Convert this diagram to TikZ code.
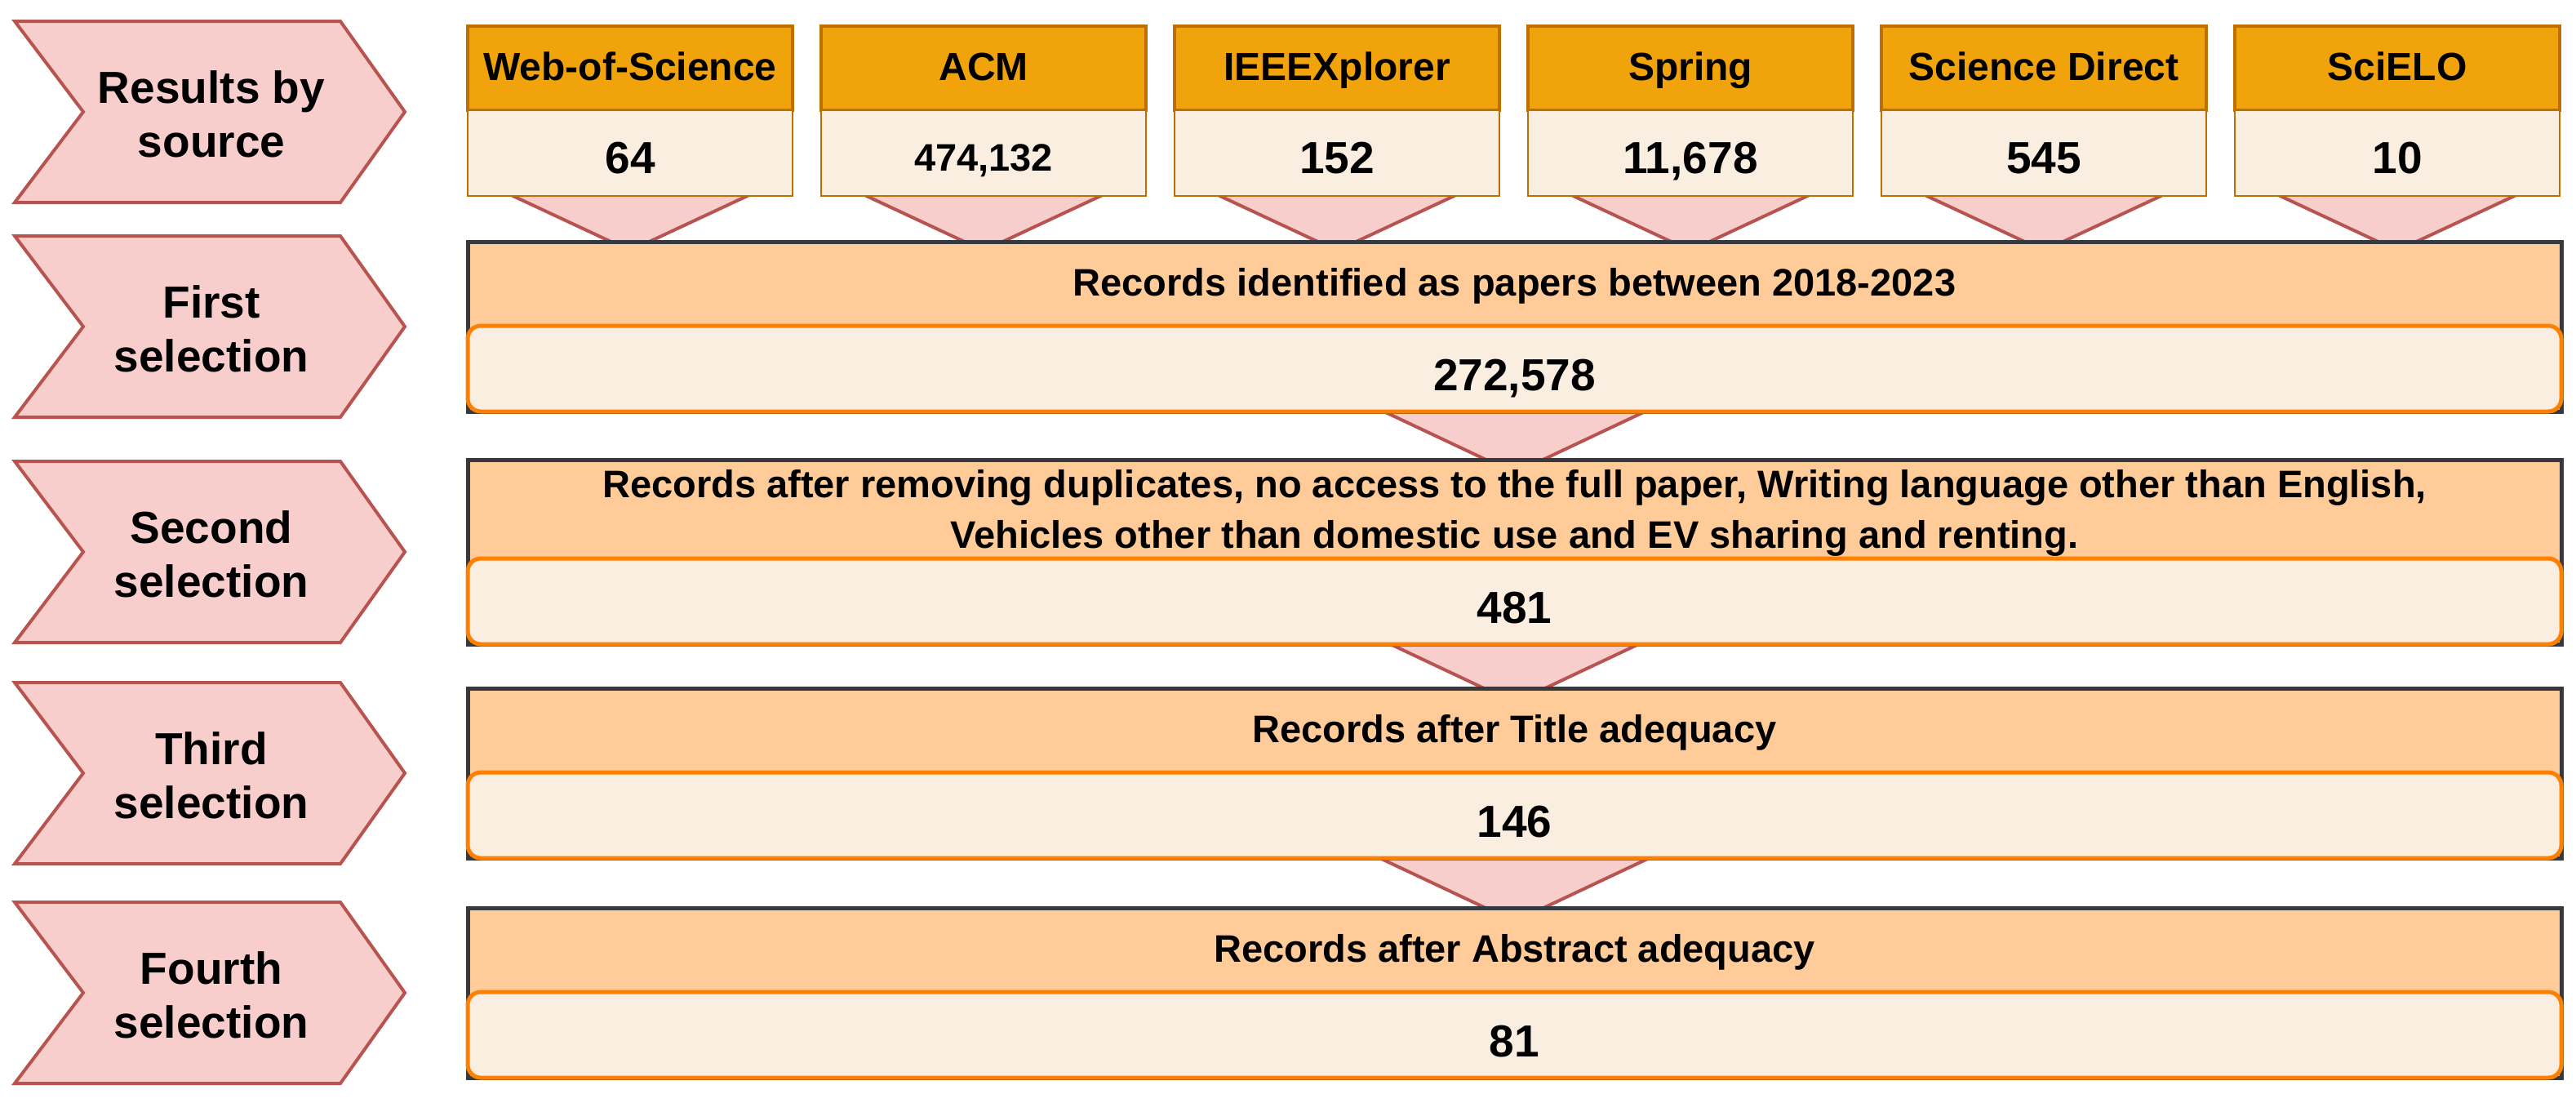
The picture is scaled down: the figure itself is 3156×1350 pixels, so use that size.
\documentclass[tikz,border=0pt]{standalone}
\usepackage{fontspec}
\setmainfont{Liberation Sans}
\usetikzlibrary{calc,backgrounds}
\definecolor{chevfill}{HTML}{F8CECC}
\definecolor{chevline}{HTML}{B85450}
\definecolor{srchead}{HTML}{F0A30A}
\definecolor{srcline}{HTML}{BD7000}
\definecolor{cream}{HTML}{FAEEE1}
\definecolor{peach}{HTML}{FFCC99}
\definecolor{darkline}{HTML}{36393D}
\definecolor{orangeline}{HTML}{FF8000}
\begin{document}
\begin{tikzpicture}[x=1pt,y=-1pt,
  chevshape/.style={fill=chevfill,draw=chevline,line width=4pt},
  chevtext/.style={inner sep=0pt,font=\fontsize{55}{66}\selectfont\bfseries,align=center},
  headbox/.style={rectangle,draw=srcline,fill=srchead,line width=4pt,minimum width=398pt,minimum height=103pt,inner sep=0pt,outer sep=0pt,font=\fontsize{48}{56}\selectfont\bfseries,text height=30.4pt,text depth=0pt},
  valbox/.style={rectangle,draw=srcline,fill=cream,line width=2pt,minimum width=398pt,minimum height=105pt,inner sep=0pt,outer sep=0pt,font=\fontsize{55}{66}\selectfont\bfseries,text height=50.4pt,text depth=0pt},
  smallval/.style={font=\fontsize{47}{56}\selectfont\bfseries,text height=44.7pt},
  bigbox/.style={rectangle,draw=darkline,fill=peach,line width=5pt,minimum width=2565pt,inner sep=0pt,outer sep=0pt},
  headtext/.style={inner sep=0pt,font=\fontsize{47}{62}\selectfont\bfseries,align=center},
  oneline/.style={text height=33.7pt,text depth=0pt},
  bigval/.style={rectangle,rounded corners=16pt,draw=orangeline,fill=cream,line width=5pt,minimum width=2565pt,minimum height=105pt,inner sep=0pt,outer sep=0pt,font=\fontsize{55}{66}\selectfont\bfseries,text height=53.4pt,text depth=0pt},
  arrowtri/.style={fill=chevfill,draw=chevline,line width=4pt,line join=miter}]
\useasboundingbox (0,0) rectangle (3156,1350);

% chevrons
\foreach \cy/\nm/\txt in {137/c0/{Results by\\source},400/c1/{First\\selection},676/c2/{Second\\selection},947/c3/{Third\\selection},1216/c4/{Fourth\\selection}}{
  \draw[chevshape] (18,\cy-111) -- (417,\cy-111) -- (496,\cy) -- (417,\cy+111) -- (18,\cy+111) -- (102,\cy) -- cycle;
  \node[chevtext] (\nm) at (259,\cy+3) {\txt};
}

% sources
\foreach \i/\hd/\vl/\st in {0/Web-of-Science/64/{},1/ACM/{474,132}/smallval,2/IEEEXplorer/152/{},3/Spring/{11,678}/{},4/Science Direct/545/{},5/SciELO/10/{}}{
  \node[headbox] (h\i) at (772+433*\i,83.5) {\hd};
  \node[valbox,\st] (v\i) at (772+433*\i,187.5) {\vl};
}

% big boxes
\node[bigbox,minimum height=208pt] (b1) at (1855.5,400) {};
\node[bigval] (n1) at (1855.5,451.5) {272,578};
\node[headtext,oneline] (t1) at (1855.5,346) {Records identified as papers between 2018-2023};

\node[bigbox,minimum height=226pt] (b2) at (1855.5,676) {};
\node[bigval] (n2) at (1855.5,736.5) {481};
\node[headtext] (t2) at (1855.5,628) {Records after removing duplicates, no access to the full paper, Writing language other than English,\\Vehicles other than domestic use and EV sharing and renting.};

\node[bigbox,minimum height=208pt] (b3) at (1855.5,947) {};
\node[bigval] (n3) at (1855.5,998.5) {146};
\node[headtext,oneline] (t3) at (1855.5,893) {Records after Title adequacy};

\node[bigbox,minimum height=208pt] (b4) at (1855.5,1216) {};
\node[bigval] (n4) at (1855.5,1267.5) {81};
\node[headtext,oneline] (t4) at (1855.5,1162) {Records after Abstract adequacy};

% arrows (triangles) behind boxes
\begin{pgfonlayer}{background}
\foreach \i in {0,...,5}{
  \draw[arrowtri] ($(v\i.south)+(-152,-4)$) -- ($(v\i.south)+(152,-4)$) -- ($(v\i.south)+(0,67)$) -- cycle;
}
\draw[arrowtri] ($(b1.south)+(-168.5,-4)$) -- ($(b1.south)+(168.5,-4)$) -- ($(b1.south)+(0,75.5)$) -- cycle;
\draw[arrowtri] ($(b2.south)+(-160.5,-4)$) -- ($(b2.south)+(160.5,-4)$) -- ($(b2.south)+(0,71.7)$) -- cycle;
\draw[arrowtri] ($(b3.south)+(-173.5,-4)$) -- ($(b3.south)+(173.5,-4)$) -- ($(b3.south)+(0,77.8)$) -- cycle;
\end{pgfonlayer}
\end{tikzpicture}
\end{document}
